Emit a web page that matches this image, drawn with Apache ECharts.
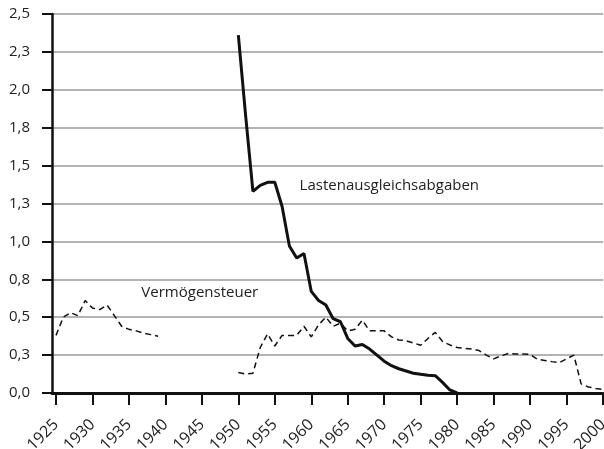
<!DOCTYPE html>
<html>
<head>
<meta charset="utf-8">
<script src="https://cdn.jsdelivr.net/npm/echarts@6/dist/echarts.min.js"></script>
<style>
  html, body { margin: 0; padding: 0; background: #fff; }
  #chart { width: 604px; height: 449px; }
</style>
</head>
<body>
<div id="chart"></div>
<script>
// tick labels
const yearTicks = [1925, 1930, 1935, 1940, 1945, 1950, 1955, 1960, 1965, 1970, 1975, 1980, 1985, 1990, 1995, 2000]

// Vermögensteuer (dashed), gap 1940-1949
const vermYears = [
  1925, 1926, 1927, 1928, 1929, 1930, 1931, 1932, 1933, 1934, 1935, 1936, 1937, 1938, 1939,
  1940,
  1950, 1951, 1952, 1953, 1954, 1955, 1956, 1957, 1958, 1959,
  1960, 1961, 1962, 1963, 1964, 1965, 1966, 1967, 1968, 1969,
  1970, 1971, 1972, 1973, 1974, 1975, 1976, 1977, 1978, 1979,
  1980, 1981, 1982, 1983, 1984, 1985, 1986, 1987, 1988, 1989,
  1990, 1991, 1992, 1993, 1994, 1995, 1996, 1997, 1998, 1999, 2000
]
const vermValues = [
  0.38, 0.50, 0.53, 0.51, 0.61, 0.56, 0.55, 0.58, 0.51, 0.44, 0.42, 0.41, 0.395, 0.385, 0.375,
  null,
  0.135, 0.125, 0.13, 0.30, 0.39, 0.31, 0.38, 0.38, 0.38, 0.44,
  0.37, 0.45, 0.50, 0.44, 0.46, 0.41, 0.42, 0.48, 0.41, 0.41,
  0.41, 0.37, 0.35, 0.345, 0.33, 0.315, 0.36, 0.40, 0.34, 0.317,
  0.30, 0.295, 0.29, 0.28, 0.25, 0.225, 0.245, 0.26, 0.257, 0.257,
  0.255, 0.222, 0.215, 0.207, 0.20, 0.225, 0.25, 0.06, 0.04, 0.03, 0.024
]

// Lastenausgleichsabgaben (solid)
const lastenYears = [
  1950, 1951, 1952, 1953, 1954, 1955, 1956, 1957, 1958, 1959,
  1960, 1961, 1962, 1963, 1964, 1965, 1966, 1967, 1968, 1969,
  1970, 1971, 1972, 1973, 1974, 1975, 1976, 1977, 1978, 1979, 1980
]
const lastenValues = [
  2.36, 1.83, 1.33, 1.37, 1.39, 1.39, 1.23, 0.97, 0.89, 0.92,
  0.67, 0.61, 0.58, 0.49, 0.47, 0.36, 0.31, 0.32, 0.29, 0.25,
  0.21, 0.18, 0.16, 0.145, 0.13, 0.123, 0.117, 0.114, 0.07, 0.02, 0.0
]

const zip = (xs, ys) => xs.map((x, i) => [x, ys[i]])

const font = '"Open Sans", "Noto Sans", sans-serif'
const chart = echarts.init(document.getElementById('chart'), null, { renderer: 'canvas' })

chart.setOption({
  animation: false,
  grid: { left: 52, right: 1, top: 14, bottom: 56, outerBoundsMode: 'none', containLabel: false },
  xAxis: {
    type: 'value',
    min: 1924.45,
    max: 2000,
    axisLine: { show: true, lineStyle: { color: '#111', width: 3 } },
    axisTick: { show: true, length: 12, lineStyle: { color: '#111', width: 2 }, customValues: yearTicks },
    axisLabel: {
      customValues: yearTicks,
      rotate: 45,
      margin: 29,
      hideOverlap: false,
      color: '#222',
      fontSize: 16,
      fontFamily: font,
      formatter: (v) => String(v)
    },
    splitLine: { show: false }
  },
  yAxis: {
    type: 'value',
    min: 0,
    max: 2.5,
    interval: 0.25,
    axisLine: { show: true, lineStyle: { color: '#111', width: 2.5 } },
    axisTick: { show: true, length: 10, lineStyle: { color: '#111', width: 2 } },
    axisLabel: {
      margin: 22,
      color: '#222',
      fontSize: 15,
      fontFamily: font,
      formatter: (v) => v.toFixed(1).replace('.', ',')
    },
    splitLine: { show: true, lineStyle: { color: '#9a9a9a', width: 1.5 } }
  },
  series: [
    {
      name: 'Vermögensteuer',
      type: 'line',
      data: zip(vermYears, vermValues),
      showSymbol: false,
      connectNulls: false,
      lineStyle: { color: '#111', width: 1.5, type: [6, 4] },
      markPoint: {
        symbolSize: 0,
        label: {
          show: true, position: 'inside', align: 'left', color: '#222',
          fontSize: 15, fontFamily: font, formatter: '{b}'
        },
        data: [{ name: 'Vermögensteuer', coord: [1936.7, 0.66] }]
      }
    },
    {
      name: 'Lastenausgleichsabgaben',
      type: 'line',
      data: zip(lastenYears, lastenValues),
      showSymbol: false,
      lineStyle: { color: '#111', width: 3 },
      markPoint: {
        symbolSize: 0,
        label: {
          show: true, position: 'inside', align: 'left', color: '#222',
          fontSize: 15, fontFamily: font, formatter: '{b}'
        },
        data: [{ name: 'Lastenausgleichsabgaben', coord: [1958.4, 1.365] }]
      }
    }
  ]
})
</script>
</body>
</html>
